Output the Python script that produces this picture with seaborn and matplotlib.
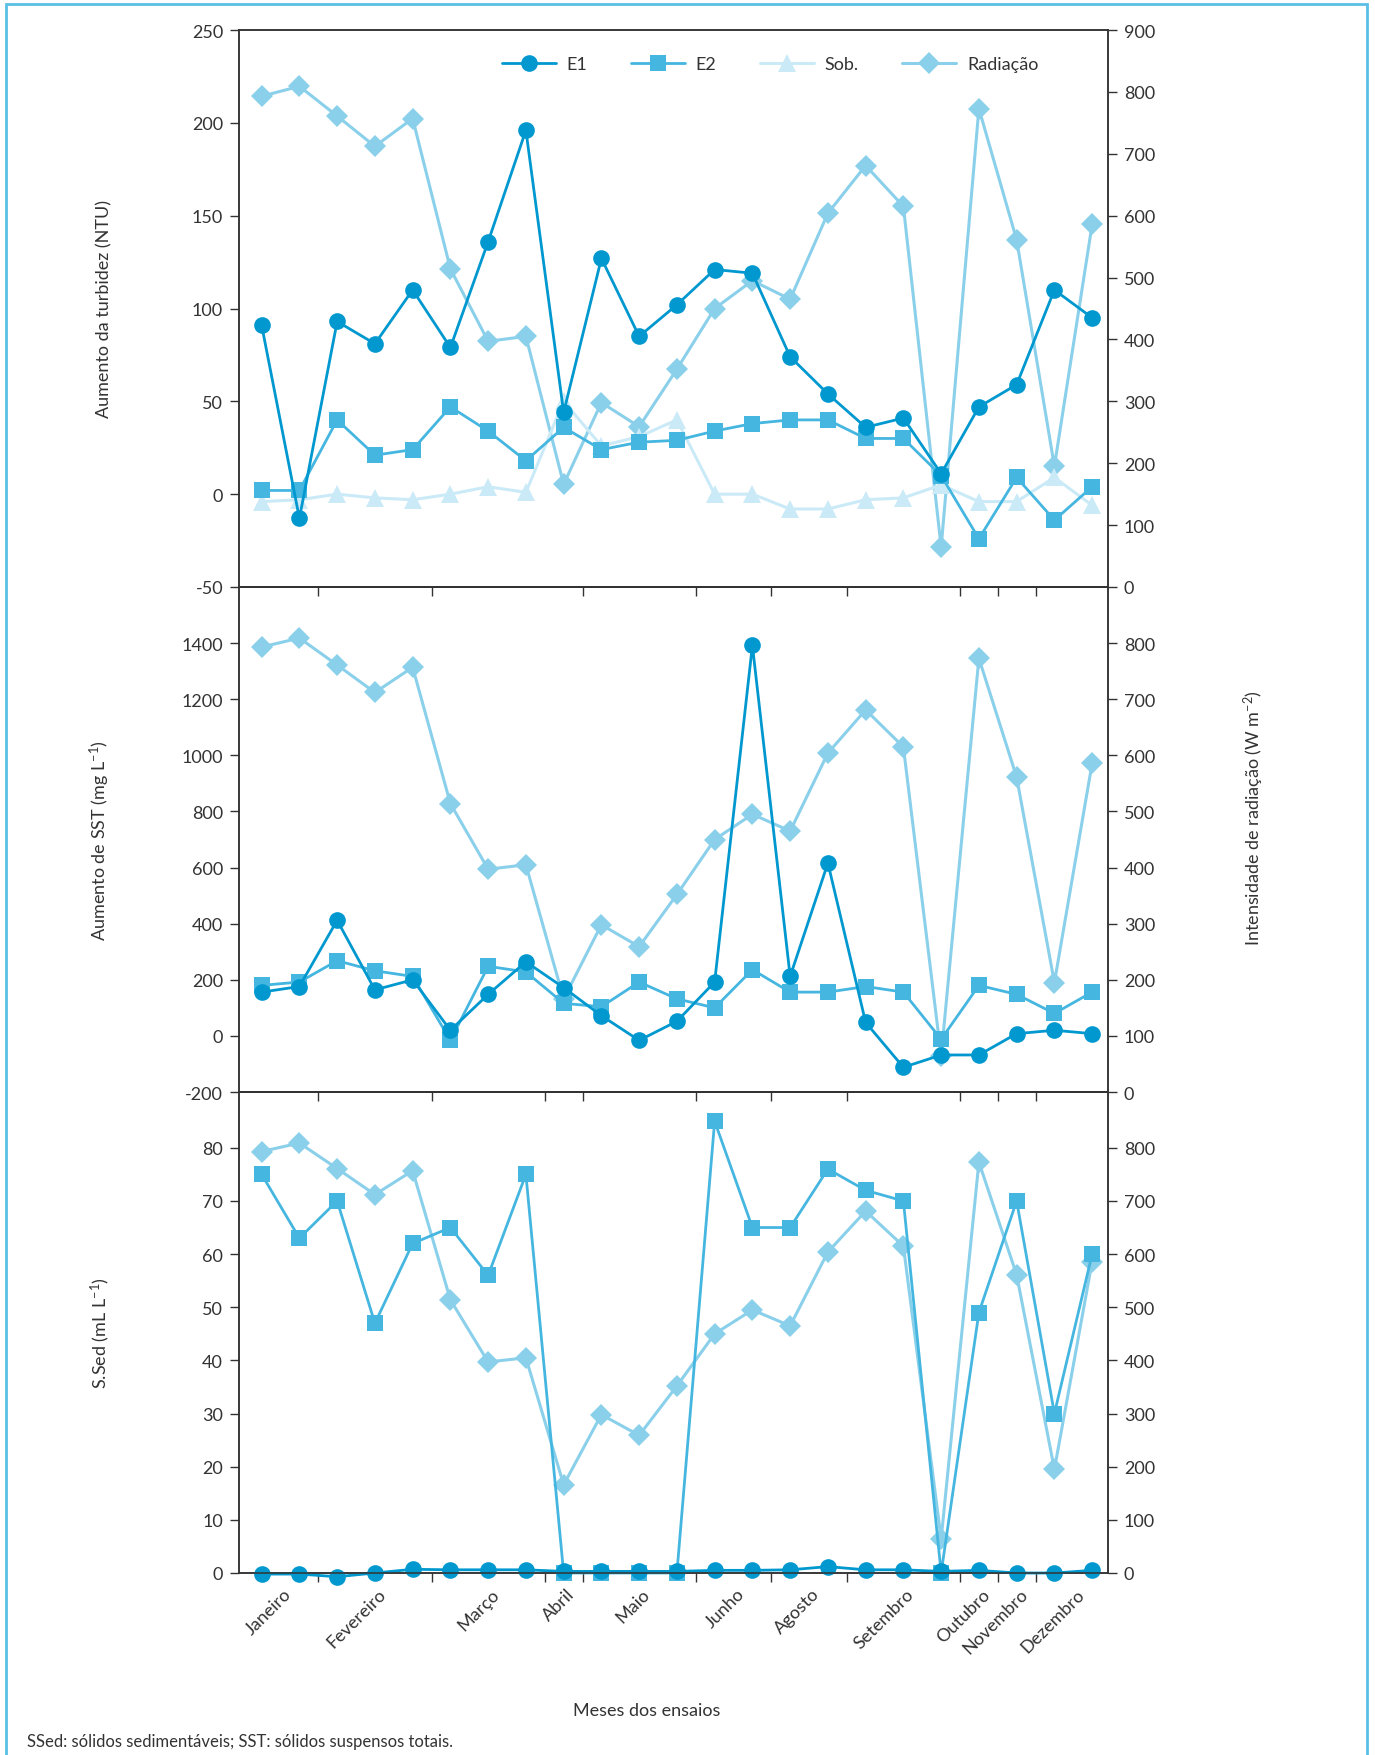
import matplotlib
matplotlib.use("Agg")
import matplotlib.pyplot as plt
import matplotlib.transforms as mtransforms
from matplotlib.patches import Rectangle
import seaborn as sns
import pandas as pd

# sample index (23 trials) and month groups
idx = list(range(23))
months = ["Janeiro", "Fevereiro", "Março", "Abril", "Maio", "Junho",
          "Agosto", "Setembro", "Outubro", "Novembro", "Dezembro"]
month_centers = [0.5, 3, 6, 8, 10, 12.5, 14.5, 17, 19, 20, 21.5]
bounds_top = [1.5, 4.5, 8.5, 11.5, 13.5, 15.5, 18.5, 19.5, 20.5]
bounds_low = [1.5, 4.5, 7.5, 8.5, 11.5, 13.5, 15.5, 18.5, 19.5, 20.5]

radiacao = [793, 809, 761, 712, 757, 514, 397, 405, 166, 298, 259, 352,
            450, 495, 465, 604, 681, 615, 64, 773, 561, 195, 586]

turb_e1 = [91, -13, 93, 81, 110, 79, 136, 196, 44, 127, 85, 102,
           121, 119, 74, 54, 36, 41, 11, 47, 59, 110, 95]
turb_e2 = [2, 2, 40, 21, 24, 47, 34, 18, 36, 24, 28, 29,
           34, 38, 40, 40, 30, 30, 10, -24, 9, -14, 4]
turb_sob = [-4, -3, 0, -2, -3, 0, 4, 1, 50, 26, 31, 40,
            0, 0, -8, -8, -3, -2, 5, -4, -4, 9, -6]

sst_e1 = [156, 176, 412, 164, 200, 20, 148, 264, 172, 72, -16, 52,
          192, 1392, 212, 616, 48, -112, -68, -68, 8, 20, 8]
sst_e2 = [180, 192, 268, 232, 212, -16, 248, 228, 116, 104, 192, 132,
          100, 236, 156, 156, 176, 156, -12, 180, 148, 80, 156]

ssed_e1 = [-0.2, -0.2, -0.7, 0, 0.7, 0.6, 0.6, 0.6, 0.3, 0.3, 0.3, 0.3,
           0.5, 0.5, 0.6, 1.2, 0.6, 0.6, 0.3, 0.5, 0, 0, 0.5]
ssed_e2 = [75, 63, 70, 47, 62, 65, 56, 75, 0, 0, 0, 0,
           85, 65, 65, 76, 72, 70, 0, 49, 70, 30, 60]

sns.set_style("ticks")
plt.rcParams['font.family'] = ['Lato', 'DejaVu Sans']
plt.rcParams['font.size'] = 13
plt.rcParams['axes.unicode_minus'] = False
plt.rcParams['mathtext.fontset'] = 'custom'
plt.rcParams['mathtext.rm'] = 'Lato'
plt.rcParams['mathtext.it'] = 'Lato:italic'
plt.rcParams['text.color'] = '#333333'
plt.rcParams['axes.labelcolor'] = '#333333'
plt.rcParams['xtick.color'] = '#333333'
plt.rcParams['ytick.color'] = '#333333'

C_E1 = '#0098cf'
C_E2 = '#45b6e0'
C_SOB = '#cbeaf7'
C_RAD = '#8ad0eb'

W, H = 1375, 1756
fig = plt.figure(figsize=(W / 100, H / 100), dpi=100)

left, width = 239 / W, (1108 - 239) / W
rows = [(31, 588), (588, 1093), (1093, 1574)]
axes = []
for top, bot in rows:
    ax = fig.add_axes([left, 1 - bot / H, width, (bot - top) / H])
    axes.append(ax)

df = pd.DataFrame({"idx": idx, "rad": radiacao,
                   "turb_e1": turb_e1, "turb_e2": turb_e2, "turb_sob": turb_sob,
                   "sst_e1": sst_e1, "sst_e2": sst_e2,
                   "ssed_e1": ssed_e1, "ssed_e2": ssed_e2})

style_e1 = dict(color=C_E1, marker='o', markersize=12, linewidth=2, markeredgewidth=0, clip_on=False)
style_e2 = dict(color=C_E2, marker='s', markersize=11.5, linewidth=2, markeredgewidth=0, clip_on=False)
style_sob = dict(color=C_SOB, marker='^', markersize=13, linewidth=2.2, markeredgewidth=0, clip_on=False)
style_rad = dict(color=C_RAD, marker='D', markersize=11.5, linewidth=2.2, markeredgewidth=0, clip_on=False)

panels = [
    (["turb_e1", "turb_e2", "turb_sob"], (-50, 250), range(-50, 251, 50),
     "Aumento da turbidez (NTU)", bounds_top, (0, 900)),
    (["sst_e1", "sst_e2"], (-200, 1600), range(-200, 1401, 200),
     "Aumento de SST (mg L$^{-1}$)", bounds_low, (0, 900)),
    (["ssed_e1", "ssed_e2"], (0, 90.5), range(0, 81, 10),
     "S.Sed (mL L$^{-1}$)", bounds_low, (0, 905)),
]

handles = {}
for ax, (cols, ylim, yticks, ylabel, bounds, rlim) in zip(axes, panels):
    ax2 = ax.twinx()
    sns.lineplot(data=df, x="idx", y="rad", ax=ax2, label="Radiação", legend=False, **style_rad)
    for c in cols[::-1]:
        if c.endswith("e1"):
            st, lab = style_e1, "E1"
        elif c.endswith("e2"):
            st, lab = style_e2, "E2"
        else:
            st, lab = style_sob, "Sob."
        sns.lineplot(data=df, x="idx", y=c, ax=ax, label=lab, legend=False, **st)
    ax.set_zorder(ax2.get_zorder() + 1)
    ax.patch.set_visible(False)

    ax.set_xlim(-0.6, 22.42)
    ax.set_ylim(*ylim)
    ax.set_yticks(list(yticks))
    ax2.set_ylim(*rlim)
    ax2.set_yticks(range(0, 801, 100) if ax is not axes[0] else range(0, 901, 100))
    ax.set_ylabel(ylabel)
    ax.yaxis.set_label_coords(-0.146, 0.5)
    ax2.set_ylabel("")
    ax.set_xlabel("")

    ax.set_xticks(bounds)
    ax.set_xticklabels([])
    ax.set_xticks(month_centers, minor=True)
    ax.set_xticklabels([] if ax is not axes[2] else months, minor=True)
    ax.tick_params(axis='x', which='minor', length=0, pad=9, labelsize=13)
    for a in (ax, ax2):
        a.tick_params(axis='both', which='major', direction='out', length=6.5, width=1,
                      labelsize=13, pad=5)
        for s in a.spines.values():
            s.set_visible(True)
            s.set_linewidth(1.1)
            s.set_color('#333333')
    if ax is axes[0]:
        for h in ax.get_lines():
            handles[h.get_label()] = h
        handles["Radiação"] = ax2.get_lines()[0]

# month labels on the bottom panel
offset = mtransforms.ScaledTranslation(10 / 72, 0, fig.dpi_scale_trans)
for lbl in axes[2].get_xticklabels(minor=True):
    lbl.set_rotation(45)
    lbl.set_ha('right')
    lbl.set_transform(lbl.get_transform() + offset)

order = ["E1", "E2", "Sob.", "Radiação"]
fig.legend([handles[k] for k in order], order, loc='center', ncol=4,
           bbox_to_anchor=(770 / W, 1 - 65 / H), frameon=False, fontsize=13,
           handlelength=3, handletextpad=0.6, columnspacing=2.4)

fig.text(1254 / W, 1 - 818 / H, "Intensidade de radiação (W m$^{-2}$)",
         rotation=90, ha='center', va='center', fontsize=13)
fig.text(647 / W, 1 - 1711 / H, "Meses dos ensaios", ha='center', va='center', fontsize=13)
fig.text(27 / W, 1 - 1742 / H, "SSed: sólidos sedimentáveis; SST: sólidos suspensos totais.",
         ha='left', va='center', fontsize=12)

fig.add_artist(Rectangle((6 / W, -0.02), (1367 - 6) / W, 1 - 5 / H + 0.02,
                         transform=fig.transFigure, fill=False,
                         edgecolor='#5bc0e6', linewidth=2))

fig.savefig("out.png", dpi=100)
